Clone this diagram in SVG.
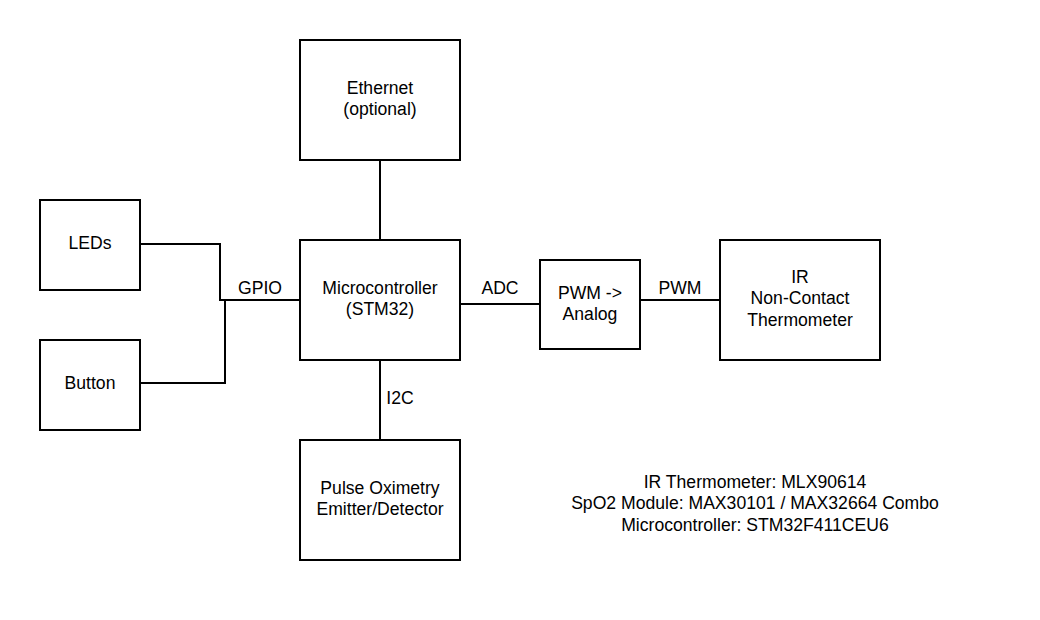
<svg xmlns="http://www.w3.org/2000/svg" width="1040" height="620" viewBox="0 0 1040 620">
<style>
.box{fill:#fff;stroke:#000;stroke-width:2}
.wire{fill:none;stroke:#000;stroke-width:2}
text{font-family:"Liberation Sans",Arial,sans-serif;font-size:17.6px;fill:#000;text-anchor:middle}
</style>
<rect width="1040" height="620" fill="#fff"/>
<g id="connectors">
<line class="wire" x1="380" y1="160" x2="380" y2="240"/>
<polyline class="wire" points="140,244 220,244 220,300 300,300"/>
<polyline class="wire" points="140,383 225,383 225,300"/>
<line class="wire" x1="460" y1="304" x2="540" y2="304"/>
<line class="wire" x1="640" y1="300" x2="720" y2="300"/>
<line class="wire" x1="380" y1="360" x2="380" y2="440"/>
<text x="260" y="294">GPIO</text>
<text x="500" y="294">ADC</text>
<text x="680" y="294">PWM</text>
<text x="400" y="404">I2C</text>
</g>
<g id="ethernet"><rect class="box" x="300" y="40" width="160" height="120"/><text x="380" y="94">Ethernet</text><text x="380" y="115">(optional)</text></g>
<g id="leds"><rect class="box" x="40" y="200" width="100" height="90"/><text x="90" y="249">LEDs</text></g>
<g id="button"><rect class="box" x="40" y="340" width="100" height="90"/><text x="90" y="389">Button</text></g>
<g id="mcu"><rect class="box" x="300" y="240" width="160" height="120"/><text x="380" y="294">Microcontroller</text><text x="380" y="315">(STM32)</text></g>
<g id="pwm"><rect class="box" x="540" y="260" width="100" height="89"/><text x="590" y="299">PWM -&gt;</text><text x="590" y="320">Analog</text></g>
<g id="ir"><rect class="box" x="720" y="240" width="160" height="120"/><text x="800" y="283">IR</text><text x="800" y="304">Non-Contact</text><text x="800" y="326">Thermometer</text></g>
<g id="pulse"><rect class="box" x="300" y="440" width="160" height="120"/><text x="380" y="494">Pulse Oximetry</text><text x="380" y="515">Emitter/Detector</text></g>
<g id="notes"><text x="755" y="488">IR Thermometer: MLX90614</text><text x="755" y="509">SpO2 Module: MAX30101 / MAX32664 Combo</text><text x="755" y="531">Microcontroller: STM32F411CEU6</text></g>
</svg>
